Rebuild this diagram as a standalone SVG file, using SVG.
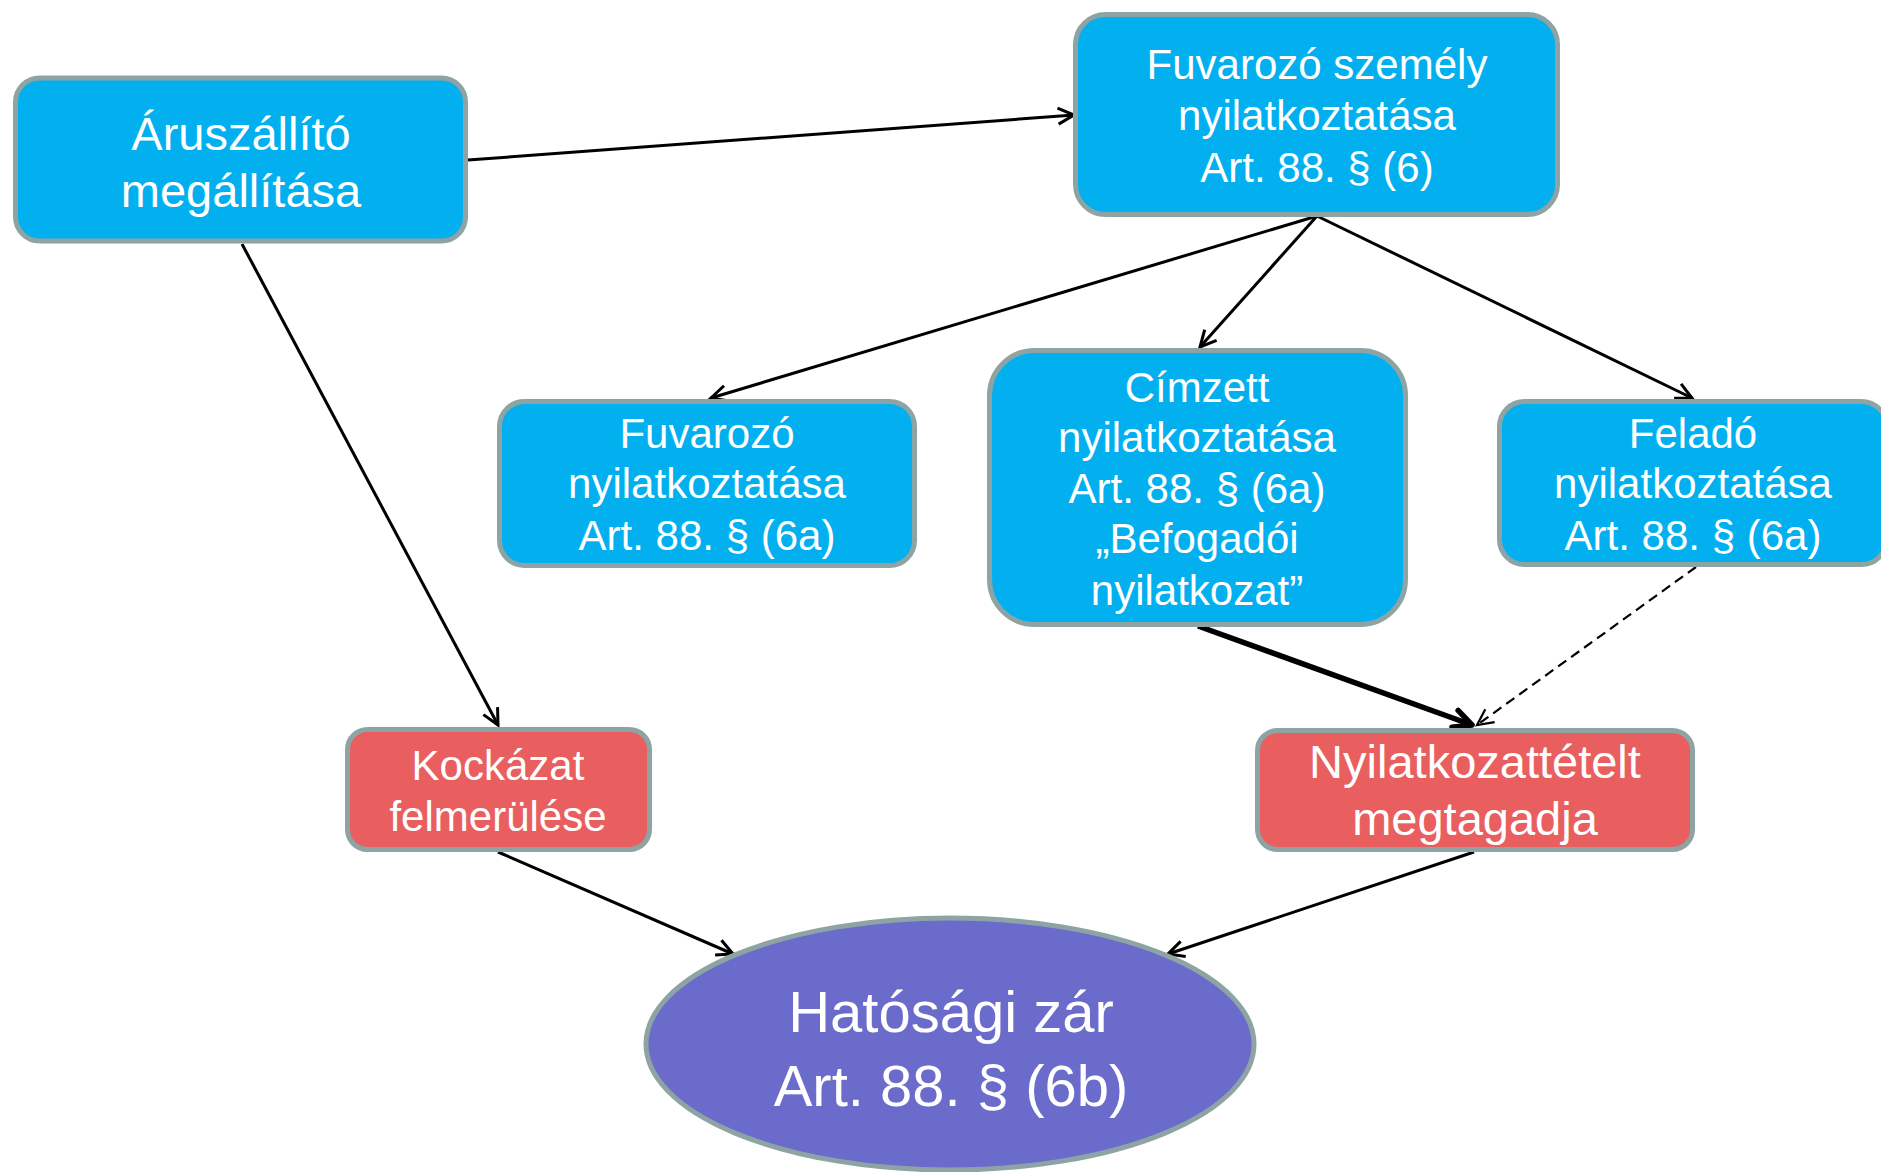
<svg xmlns="http://www.w3.org/2000/svg" width="1881" height="1172" viewBox="0 0 1881 1172">
<defs>
<style>
.box{fill:#02b0f0;stroke:#8ea4a4;stroke-width:5}
.red{fill:#e95f5f;stroke:#8ea4a4;stroke-width:5}
.ell{fill:#6b6bcc;stroke:#8ea4a4;stroke-width:5}
text{font-family:"Liberation Sans",Arial,sans-serif;fill:#ffffff;text-anchor:middle}
.f42{font-size:42px}
.f47{font-size:47px}
.f58{font-size:58px}
.edge{fill:none;stroke:#000;stroke-width:3}
.thick{fill:none;stroke:#000;stroke-width:5.5}
.dash{fill:none;stroke:#000;stroke-width:2.2;stroke-dasharray:10 6}
</style>
<marker id="arr" markerUnits="userSpaceOnUse" viewBox="-20 -12 24 24" refX="0" refY="0" markerWidth="24" markerHeight="24" orient="auto">
<path d="M-16,-8 L0,0 L-16,8" fill="none" stroke="#000" stroke-width="3"/>
</marker>
<marker id="arrThick" markerUnits="userSpaceOnUse" viewBox="-24 -14 28 28" refX="0" refY="0" markerWidth="28" markerHeight="28" orient="auto">
<path d="M-18,-9 L0,0 L-18,9" fill="none" stroke="#000" stroke-width="5.5" stroke-linecap="round" stroke-linejoin="round"/>
</marker>
<marker id="arrThin" markerUnits="userSpaceOnUse" viewBox="-20 -12 24 24" refX="0" refY="0" markerWidth="24" markerHeight="24" orient="auto">
<path d="M-16,-8 L0,0 L-16,8" fill="none" stroke="#000" stroke-width="2.2"/>
</marker>
</defs>
<rect width="1881" height="1172" fill="#ffffff"/>
<g id="connectors">
<line class="edge" x1="468" y1="160" x2="1074" y2="115" marker-end="url(#arr)"/>
<line class="edge" x1="242" y1="244" x2="498" y2="725" marker-end="url(#arr)"/>
<line class="edge" x1="1317" y1="216" x2="711" y2="398" marker-end="url(#arr)"/>
<line class="edge" x1="1317" y1="216" x2="1200" y2="347" marker-end="url(#arr)"/>
<line class="edge" x1="1317" y1="216" x2="1692" y2="398" marker-end="url(#arr)"/>
<line class="thick" x1="1198" y1="626" x2="1472" y2="725" marker-end="url(#arrThick)"/>
<line class="dash" x1="1696" y1="567" x2="1477" y2="725" marker-end="url(#arrThin)"/>
<line class="edge" x1="498" y1="852" x2="733" y2="954" marker-end="url(#arr)"/>
<line class="edge" x1="1474" y1="852" x2="1168" y2="954" marker-end="url(#arr)"/>
</g>
<g id="n1">
<rect class="box" x="15.5" y="78" width="450" height="163" rx="24"/>
<text class="f47" x="241" y="150">Áruszállító</text>
<text class="f47" x="241" y="207">megállítása</text>
</g>
<g id="n2">
<rect class="box" x="1075.5" y="14.5" width="482" height="200" rx="30"/>
<text class="f42" x="1317" y="79">Fuvarozó személy</text>
<text class="f42" x="1317" y="130">nyilatkoztatása</text>
<text class="f42" x="1317" y="182">Art. 88. § (6)</text>
</g>
<g id="n3">
<rect class="box" x="499.5" y="401.5" width="415" height="164" rx="25"/>
<text class="f42" x="707" y="448">Fuvarozó</text>
<text class="f42" x="707" y="498">nyilatkoztatása</text>
<text class="f42" x="707" y="550">Art. 88. § (6a)</text>
</g>
<g id="n4">
<rect class="box" x="989.5" y="350.5" width="416" height="274" rx="45"/>
<text class="f42" x="1197" y="402">Címzett</text>
<text class="f42" x="1197" y="452">nyilatkoztatása</text>
<text class="f42" x="1197" y="503">Art. 88. § (6a)</text>
<text class="f42" x="1197" y="553">„Befogadói</text>
<text class="f42" x="1197" y="605">nyilatkozat”</text>
</g>
<g id="n5">
<rect class="box" x="1499.5" y="401.5" width="387" height="163" rx="25"/>
<text class="f42" x="1693" y="448">Feladó</text>
<text class="f42" x="1693" y="498">nyilatkoztatása</text>
<text class="f42" x="1693" y="550">Art. 88. § (6a)</text>
</g>
<g id="n6">
<rect class="red" x="347.5" y="729.5" width="302" height="120" rx="20"/>
<text class="f42" x="498" y="780">Kockázat</text>
<text class="f42" x="498" y="831">felmerülése</text>
</g>
<g id="n7">
<rect class="red" x="1257.5" y="730.5" width="435" height="119" rx="20"/>
<text class="f47" x="1475" y="778">Nyilatkozattételt</text>
<text class="f47" x="1475" y="835">megtagadja</text>
</g>
<g id="n8">
<ellipse class="ell" cx="950" cy="1044" rx="304" ry="126"/>
<text class="f58" x="951" y="1032">Hatósági zár</text>
<text class="f58" x="951" y="1106">Art. 88. § (6b)</text>
</g>
</svg>
